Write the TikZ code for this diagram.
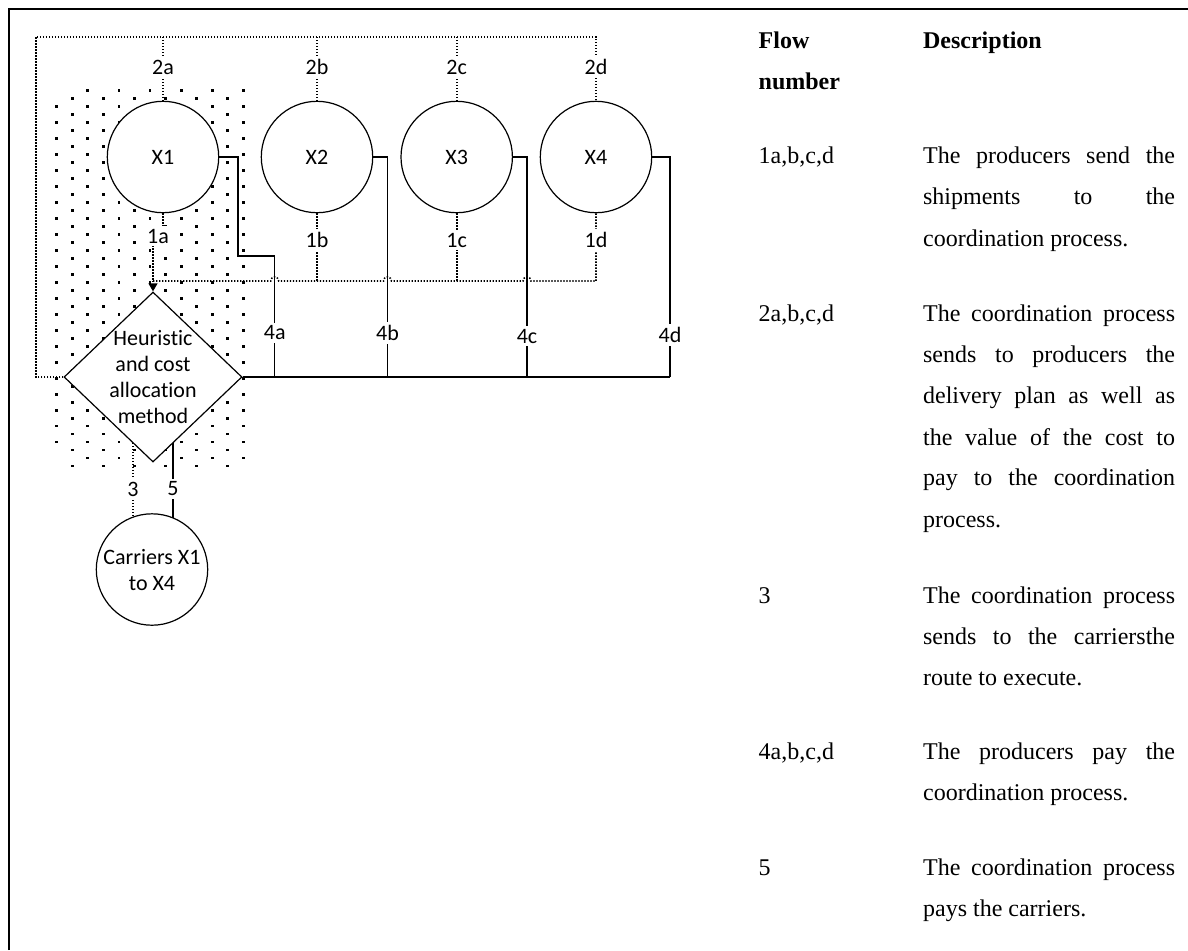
\documentclass[tikz,border=0pt]{standalone}
\usepackage{fontspec}
\setmainfont{Liberation Serif}
\newfontfamily\diagfont[Ligatures=NoCommon]{Carlito}
\usetikzlibrary{shapes.geometric,arrows.meta}
\pgfdeclarelayer{bg}
\pgfsetlayers{bg,main}
\newcommand{\jl}[1]{\makebox[126pt][s]{#1}}
\begin{document}
\begin{tikzpicture}[x=0.5pt,y=-0.5pt,
  dfont/.style={font=\diagfont\fontsize{11}{13}\selectfont},
  lab/.style={dfont, fill=white, inner sep=1.5pt},
  prod/.style={circle, draw, fill=white, minimum size=55.7pt, inner sep=0pt, line width=0.6pt, dfont},
  dline/.style={line width=0.8pt, dash pattern=on 0.7pt off 0.8pt},
  sline/.style={line width=0.6pt},
  body/.style={anchor=base west, inner sep=0pt, font=\fontsize{12}{14}\selectfont},
  head/.style={body, font=\fontsize{12}{14}\selectfont\bfseries}]
\useasboundingbox (0,0) rectangle (1188,950);
% frame
\draw[line width=1pt] (9,950) -- (9,9) -- (1188,9);

% nodes
\node[prod] (X1) at (163,157) {X1};
\node[prod] (X2) at (317,157) {X2};
\node[prod] (X3) at (456.7,157) {X3};
\node[prod] (X4) at (596,157) {X4};
\node[diamond, draw, fill=white, minimum width=89pt, minimum height=85pt, inner sep=0pt, line width=0.6pt] (d) at (153,377) {};
\node[dfont, align=center] (dt) at (d.center) {Heuristic\\and cost\\allocation\\method};
\node[prod, align=center] (car) at (152,569.5) {Carriers X1\\to X4};

% labels
\node[lab] (l2a) at (163,67) {2a};
\node[lab] (l2b) at (317,67) {2b};
\node[lab] (l2c) at (456.7,67) {2c};
\node[lab] (l2d) at (596,67) {2d};
\node[lab] (l1a) at (158,236) {1a};
\node[lab] (l1b) at (317,240) {1b};
\node[lab] (l1c) at (456.7,240) {1c};
\node[lab] (l1d) at (596,240) {1d};
\node[lab] (l4a) at (274.7,333) {4a};
\node[lab] (l4b) at (387.5,333) {4b};
\node[lab] (l4c) at (527,336) {4c};
\node[lab] (l4d) at (670,335) {4d};
\node[lab] (l3) at (133,489) {3};
\node[lab] (l5) at (173,489) {5};

\coordinate (tl) at (35.7,37);
\coordinate (bus) at (153,281);
\coordinate (j1) at (163,238);
\coordinate (c3) at (133,0);
\coordinate (c5) at (173,0);

\begin{pgfonlayer}{bg}
  % dotted pattern
  \foreach \i in {0,...,12}{
    \foreach \j in {0,...,47}{
      \pgfmathtruncatemacro\s{(mod(\i+\j,2)==0)*(1-(\i==0)*((\j==0)+(\j==46)))}
      \ifnum\s=1
        \fill ({56.7+15.55*\i-1.4},{90.7+7.985*\j-1.4}) rectangle ++(2.8,2.8);
      \fi
    }
  }
  % flows 2
  \draw[dline] (d.west) -| (tl) -- (tl -| X4.north) -- (X4.north);
  \draw[dline] (tl -| X1.north) -- (X1.north);
  \draw[dline] (tl -| X2.north) -- (X2.north);
  \draw[dline] (tl -| X3.north) -- (X3.north);
  % flows 1
  \draw[dline] (X1.south) -- (j1) -- (j1 -| bus) -- (bus);
  \draw[dline, -{Triangle[length=4pt,width=4.4pt]}] (bus) -- (d.north);
  \draw[dline] (bus) -- (270.7,281) arc[start angle=180,end angle=0,radius=2pt]
     -- (383.5,281) arc[start angle=180,end angle=0,radius=2pt]
     -- (523,281) arc[start angle=180,end angle=0,radius=2pt]
     -- (bus -| X4.south) -- (X4.south);
  \draw[dline] (X2.south) -- (bus -| X2.south);
  \draw[dline] (X3.south) -- (bus -| X3.south);
  % flows 4
  \draw[sline] (X1.east) -| (238,256) -| (l4a.center) -- (274.7,377);
  \draw[sline] (X2.east) -| (l4b.center) -- (387.5,377);
  \draw[sline] (X3.east) -| (l4c.center) -- (527,377);
  \draw[sline] (X4.east) -| (l4d.center) -- (670,377);
  \draw[sline] (d.east) -- (670,377);
  % flows 3 and 5
  \draw[dline] (d.center -| c3) -- (car.center -| c3);
  \draw[sline] (d.center -| c5) -- (car.center -| c5);
\end{pgfonlayer}

% table
\node[head] (h1) at (758.3,48.3) {Flow};
\node[head] (h2) at (758.3,89.5) {number};
\node[head] (h3) at (922.7,48.3) {Description};

\node[body] (f1) at (758.3,163.3) {1a,b,c,d};
\node[body] (t11) at (922.7,163.3) {\jl{The producers send the}};
\node[body] (t12) at (922.7,204.7) {\jl{shipments to the}};
\node[body] (t13) at (922.7,246.2) {coordination process.};

\node[body] (f2) at (758.3,321.7) {2a,b,c,d};
\node[body] (t21) at (922.7,321.7) {\jl{The coordination process}};
\node[body] (t22) at (922.7,362.3) {\jl{sends to producers the}};
\node[body] (t23) at (922.7,403.3) {\jl{delivery plan as well as}};
\node[body] (t24) at (922.7,445) {\jl{the value of the cost to}};
\node[body] (t25) at (922.7,485.7) {\jl{pay to the coordination}};
\node[body] (t26) at (922.7,527.3) {process.};

\node[body] (f3) at (758.3,603.3) {3};
\node[body] (t31) at (922.7,603.3) {\jl{The coordination process}};
\node[body] (t32) at (922.7,644.3) {\jl{sends to the carriersthe}};
\node[body] (t33) at (922.7,685.3) {route to execute.};

\node[body] (f4) at (758.3,759) {4a,b,c,d};
\node[body] (t41) at (922.7,759) {\jl{The producers pay the}};
\node[body] (t42) at (922.7,800.5) {coordination process.};

\node[body] (f5) at (758.3,875.5) {5};
\node[body] (t51) at (922.7,875.5) {\jl{The coordination process}};
\node[body] (t52) at (922.7,916.5) {pays the carriers.};
\end{tikzpicture}
\end{document}
